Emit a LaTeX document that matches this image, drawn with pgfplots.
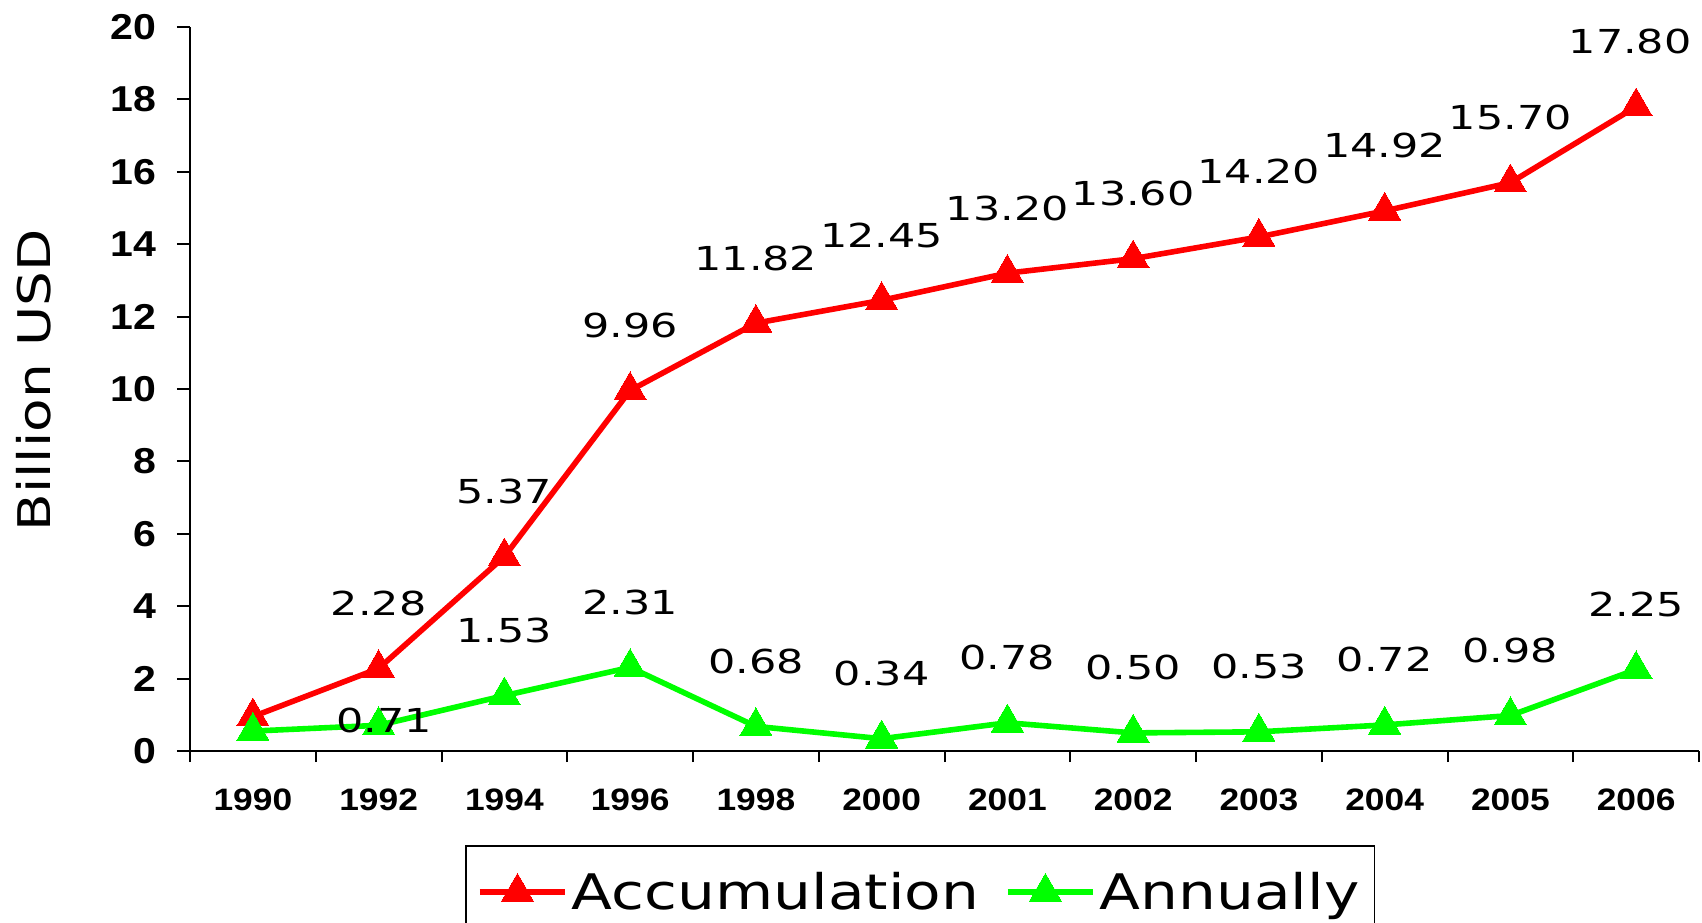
\documentclass[border=0pt]{standalone}
\usepackage{fontspec}
\usepackage{pgfplots}
\pgfplotsset{compat=1.18}
\usepackage{pgfplotstable}

\newfontfamily\lblfont[FakeStretch=1.22]{DejaVu Sans}
\newfontfamily\datafont[FakeStretch=1.3]{DejaVu Sans}
\newfontfamily\tickfont[FakeStretch=1.14]{Liberation Sans}

\definecolor{accred}{RGB}{255,0,0}
\definecolor{anngreen}{RGB}{0,255,0}

% x = category index (1990,1992,...,2006), dx/dy = label offset in pt
\pgfplotstableread{
x y dx dy lab
0 0.95 0 32.5 {}
1 2.28 0 32.5 2.28
2 5.37 0 32.5 5.37
3 9.96 0 32.5 9.96
4 11.82 0 32.5 11.82
5 12.45 0 32.5 12.45
6 13.20 0 32.5 13.20
7 13.60 0 32.5 13.60
8 14.20 0 32.5 14.20
9 14.92 0 32.5 14.92
10 15.70 0 32.5 15.70
11 17.80 -3 32.5 17.80
}\accum

\pgfplotstableread{
x y dx dy lab
0 0.55 0 32.5 {}
1 0.71 2.7 2.6 0.71
2 1.53 0 32.5 1.53
3 2.31 0 32.5 2.31
4 0.68 0 32.5 0.68
5 0.34 0 32.5 0.34
6 0.78 0 32.5 0.78
7 0.50 0 32.5 0.50
8 0.53 0 32.5 0.53
9 0.72 0 32.5 0.72
10 0.98 0 32.5 0.98
11 2.25 0 32.5 2.25
}\annual

\begin{document}
\begin{tikzpicture}
\begin{axis}[
    name=ax,
    scale only axis,
    width=754.5pt, height=362pt,
    xmin=-0.5, xmax=11.5,
    ymin=0, ymax=20,
    axis lines*=left,
    axis line style={-, line width=1pt, black},
    tick align=outside,
    xtick={0,...,11},
    xticklabels={1990,1992,1994,1996,1998,2000,2001,2002,2003,2004,2005,2006},
    minor xtick={-0.5,0.5,...,11.5},
    major x tick style={draw=none},
    ytick={0,2,...,20},
    major tick length=6.5pt,
    minor tick length=5.5pt,
    tick style={line width=1pt, black},
    /pgf/number format/assume math mode=true,
    yticklabel style={font=\tickfont\bfseries\fontsize{18}{18}\selectfont, xshift=-7pt},
    xticklabel style={font=\tickfont\bfseries\fontsize{15.5}{15.5}\selectfont, yshift=-9pt},
    ylabel={Billion USD},
    every axis y label/.style={at={([xshift=-78pt]axis description cs:0,0.512)}, rotate=90, anchor=center,
        font=\lblfont\fontsize{22.5}{24}\selectfont},
    clip=false,
    legend columns=2,
    legend style={at={(0.484,-0.13)}, anchor=north, draw=black, line width=0.8pt,
        inner xsep=5.5pt, inner ysep=11pt,
        font=\lblfont\fontsize{24.5}{26}\selectfont,
        /tikz/every even column/.append style={column sep=11pt}},
    legend image code/.code={\path (0pt,0pt) -- (42.5pt,0pt);
        \draw[#1, mark repeat=2, mark phase=2]
        plot coordinates {(0pt,0pt) (18.75pt,0pt) (37.5pt,0pt)};},
    every axis plot/.append style={line width=2.8pt, mark=triangle*, mark size=9.3pt,
        mark options={solid, line width=0pt}},
    point meta=explicit symbolic,
    nodes near coords,
    visualization depends on={\thisrow{dx}\as\labdx},
    visualization depends on={\thisrow{dy}\as\labdy},
    every node near coord/.append style={anchor=center, xshift=\labdx pt, yshift=\labdy pt,
        font=\datafont\fontsize{16.5}{18}\selectfont, text=black},
]
\addplot[color=accred] table[x=x, y=y, meta=lab] {\accum};
\addlegendentry{Accumulation}
\addplot[color=anngreen] table[x=x, y=y, meta=lab] {\annual};
\addlegendentry{Annually}
\end{axis}
\pgfresetboundingbox
\path[use as bounding box] ([shift={(-95pt,-85.5pt)}]ax.south west) rectangle ([shift={(1.5pt,13.5pt)}]ax.north east);
\end{tikzpicture}
\end{document}
